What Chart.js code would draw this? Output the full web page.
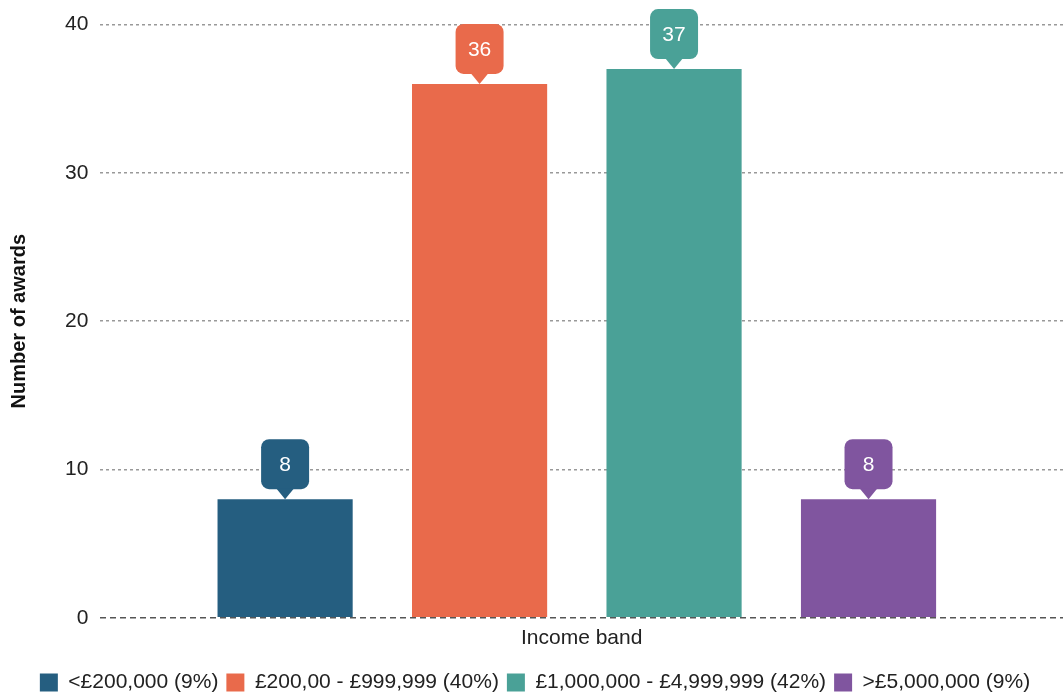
<!DOCTYPE html>
<html>
<head>
<meta charset="utf-8">
<style>
  html, body { margin: 0; padding: 0; background: #fff; }
  #wrap { width: 1063px; height: 693px; }
</style>
<script src="https://cdn.jsdelivr.net/npm/chart.js@4/dist/chart.umd.min.js"></script>
</head>
<body>
<div id="wrap"><canvas id="awardsChart"></canvas></div>
<script>
// Data
const bands = ['<£200,000 (9%)', '£200,00 - £999,999 (40%)', '£1,000,000 - £4,999,999 (42%)', '>£5,000,000 (9%)'];
const awards = [8, 36, 37, 8];
const bandColors = ['#255e80', '#e96a4b', '#4aa197', '#80559f'];
const yTicks = [0, 10, 20, 30, 40];

const FONT = '"Liberation Sans", Arial, sans-serif';

// one dataset per band, placed at slot 1..4 along the income band axis
const datasets = bands.map((b, i) => ({
    label: b,
    data: [{ x: i + 1, y: awards[i] }],
    backgroundColor: bandColors[i],
    borderWidth: 0,
    grouped: false,
    barPercentage: 0.695,
    categoryPercentage: 1
}));

// callout boxes above each bar
const calloutPlugin = {
    id: 'callouts',
    afterDatasetsDraw(chart) {
        const c = chart.ctx;
        chart.data.datasets.forEach((ds, i) => {
            const meta = chart.getDatasetMeta(i);
            meta.data.forEach((bar, j) => {
                const x = bar.x, y = bar.y;
                const w = 48, h = 50, tip = 10, r = 8;
                const bottom = y - tip;
                const top = bottom - h;
                c.save();
                c.fillStyle = ds.backgroundColor;
                c.beginPath();
                c.roundRect(x - w / 2, top, w, h, r);
                c.fill();
                c.beginPath();
                c.moveTo(x - 9, bottom - 1);
                c.lineTo(x + 9, bottom - 1);
                c.lineTo(x, y);
                c.closePath();
                c.fill();
                c.fillStyle = '#ffffff';
                c.font = '21px ' + FONT;
                c.textAlign = 'center';
                c.textBaseline = 'middle';
                c.fillText(String(ds.data[j].y), x, top + h / 2 + 1);
                c.restore();
            });
        });
    }
};

new Chart(document.getElementById('awardsChart'), {
    type: 'bar',
    data: { datasets: datasets },
    options: {
        responsive: true,
        maintainAspectRatio: false,
        animation: false,
        layout: { padding: { top: 14, left: 7, right: 0, bottom: -10 } },
        plugins: {
            legend: {
                position: 'bottom',
                labels: {
                    color: '#222',
                    font: { family: FONT, size: 21 },
                    boxWidth: 18,
                    boxHeight: 18,
                    padding: 8
                }
            },
            tooltip: { enabled: false }
        },
        scales: {
            x: {
                type: 'linear',
                offset: false,
                min: 0.05,
                max: 5,
                afterBuildTicks(scale) {
                    scale.ticks = bands.map((b, i) => ({ value: i + 1 }));
                },
                grid: { display: false },
                border: { display: false },
                ticks: { display: false },
                title: {
                    display: true,
                    text: 'Income band',
                    color: '#222',
                    font: { family: FONT, size: 21 },
                    padding: { top: 0, bottom: 13 }
                }
            },
            y: {
                min: 0,
                max: 40,
                afterBuildTicks(scale) {
                    scale.ticks = yTicks.map(v => ({ value: v }));
                },
                border: {
                    display: false,
                    dash: ctx => ctx.tick && ctx.tick.value === 0 ? [6, 4] : [3, 3]
                },
                grid: {
                    drawTicks: false,
                    lineWidth: 1.5,
                    color: ctx => ctx.tick && ctx.tick.value === 0 ? '#555' : '#999'
                },
                ticks: {
                    color: '#222',
                    padding: 12,
                    font: { family: FONT, size: 21 }
                },
                title: {
                    display: true,
                    text: 'Number of awards',
                    color: '#111',
                    font: { family: FONT, size: 20, weight: 'bold' },
                    padding: { top: 0, bottom: 22 }
                }
            }
        }
    },
    plugins: [calloutPlugin]
});
</script>
</body>
</html>
